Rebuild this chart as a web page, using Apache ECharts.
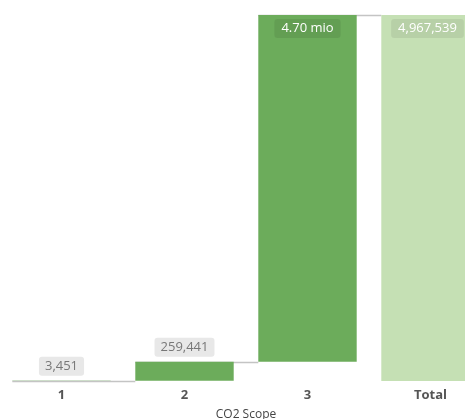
<!DOCTYPE html>
<html>
<head>
<meta charset="utf-8">
<script src="https://cdn.jsdelivr.net/npm/echarts@6/dist/echarts.min.js"></script>
<style>
html,body{margin:0;padding:0;background:#fff;}
#chart{width:465px;height:419px;}
</style>
</head>
<body>
<div id="chart"></div>
<script>
const categories = ['1', '2', '3', 'Total'];
const scopeValues = [3451, 259441, 4704647, 4967539];
const isTotal = [false, false, false, true];
const axisTitle = 'CO2 Scope';

// waterfall bases and running tops, derived from the values
const bases = [];
const tops = [];
let running = 0;
scopeValues.forEach((v, i) => {
  if (isTotal[i]) { bases.push(0); tops.push(v); }
  else { bases.push(running); running += v; tops.push(running); }
});
const connectorData = tops.slice(0, -1).map((t, i) => [i, t]);

const BAR_COLOR = '#6cac5b';
const TOTAL_COLOR = '#c5e0b4';
const FONT = 'Open Sans';

function fmt(v, i) {
  if (!isTotal[i] && v >= 1e6) return (v / 1e6).toFixed(2) + ' mio';
  return v.toLocaleString('en-US');
}

const chart = echarts.init(document.getElementById('chart'), null, {renderer: 'canvas'});
chart.setOption({
  animation: false,
  textStyle: {fontFamily: FONT},
  grid: {left: 0, right: -27, top: 15, bottom: 38, containLabel: false, outerBoundsMode: 'none'},
  xAxis: {
    type: 'category',
    data: categories,
    axisLine: {show: false},
    axisTick: {show: false},
    axisLabel: {color: '#555', fontWeight: 'bold', fontSize: 13, margin: 8, fontFamily: FONT},
    name: axisTitle,
    nameLocation: 'middle',
    nameGap: 28,
    nameTextStyle: {color: '#444', fontSize: 12, fontFamily: FONT}
  },
  yAxis: {
    type: 'value', min: 0, max: scopeValues[scopeValues.length - 1],
    show: false, splitLine: {show: false}
  },
  series: [
    {
      type: 'custom',
      z: 1,
      silent: true,
      data: connectorData,
      renderItem: function (params, api) {
        const i = api.value(0);
        const y = api.value(1);
        const band = api.size([1, 0])[0];
        const p1 = api.coord([i, y]);
        const p2 = api.coord([i + 1, y]);
        return {
          type: 'line',
          shape: {x1: p1[0] - band * 0.4, y1: Math.round(p1[1]) + 0.5, x2: p2[0] - band * 0.4, y2: Math.round(p1[1]) + 0.5},
          style: {stroke: '#c4c4c4', lineWidth: 1.5}
        };
      }
    },
    {
      type: 'bar',
      stack: 'wf',
      z: 2,
      barWidth: '80%',
      itemStyle: {color: 'transparent'},
      emphasis: {disabled: true},
      data: bases
    },
    {
      type: 'bar',
      stack: 'wf',
      z: 2,
      barWidth: '80%',
      data: scopeValues.map((v, i) => {
        const big = v >= 1e6;
        return {
          value: v,
          itemStyle: {color: isTotal[i] ? TOTAL_COLOR : BAR_COLOR},
          label: big ? {
            show: true,
            position: 'insideTop',
            distance: 4,
            offset: isTotal[i] ? [-3, 0] : [0, 0],
            color: '#fff',
            fontSize: 13,
            fontFamily: FONT,
            backgroundColor: isTotal[i] ? 'rgba(0,0,0,0.07)' : 'rgba(0,0,0,0.08)',
            borderRadius: 3,
            padding: [3, 7],
            formatter: () => fmt(v, i)
          } : {
            show: true,
            position: 'top',
            distance: 5,
            color: '#777',
            fontSize: 13,
            fontFamily: FONT,
            backgroundColor: '#e8e8e8',
            borderRadius: 3,
            padding: [3, 6],
            formatter: () => fmt(v, i)
          }
        };
      })
    }
  ]
});
</script>
</body>
</html>
